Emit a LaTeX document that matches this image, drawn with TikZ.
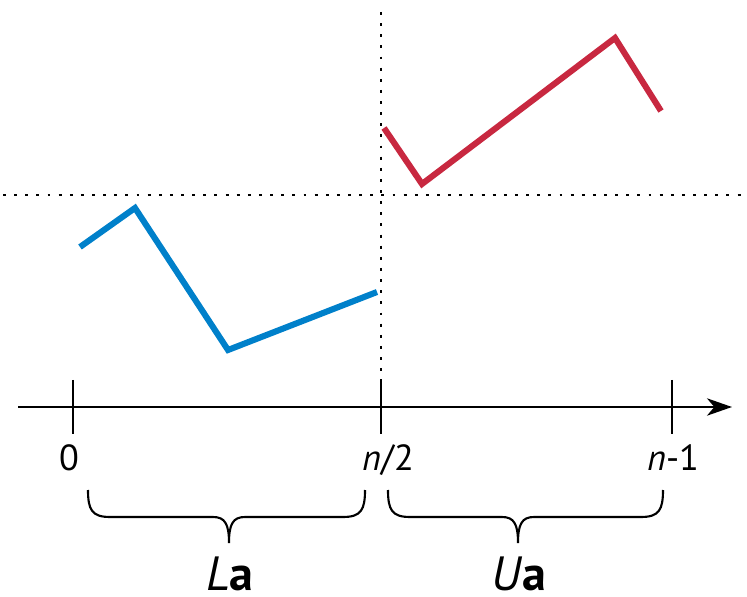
\documentclass[tikz,border=0pt]{standalone}
\usepackage{fontspec}
\setmainfont{PT Sans}
\usetikzlibrary{arrows.meta, positioning}

\begin{document}
\begin{tikzpicture}[x=0.03cm, y=-0.03cm,
          axisline/.style={line width=1.8pt, color=black},
          tickline/.style={line width=1.8pt, color=black},
          guideline/.style={line width=2.5pt, dash pattern=on 2.5pt off 7pt, color=black},
          lowpart/.style={line width=5.2pt, color=lowblue, line join=miter},
          highpart/.style={line width=5.2pt, color=highred, line join=miter},
          ticklabel/.style={anchor=base, inner sep=0pt, font=\fontsize{31}{31}\selectfont},
          bracestroke/.style={line width=1.8pt, color=black},
          halflabel/.style={anchor=base, inner sep=0pt, font=\fontsize{41}{41}\selectfont}]

        \definecolor{lowblue}{RGB}{0,128,202}
        \definecolor{highred}{RGB}{200,40,64}
        \useasboundingbox (0,0) rectangle (747,597);

        % axis and ticks
        \coordinate (start) at (18,407);
        \coordinate (end) at (732,407);
        \draw [axisline, -{Stealth[length=0.75cm, width=0.52cm, inset=0.22cm]}] (start) -- (end);
        \foreach \tx/\tname in {73/t0, 381/tmid, 672/tlast} {
          \coordinate (\tname-top) at (\tx,380);
          \coordinate (\tname-bot) at (\tx,434);
          \draw [tickline] (\tname-top) -- (\tname-bot);
        }

        % dotted guides
        \coordinate (vtop) at (381,12);
        \coordinate (hleft) at (3,195);
        \coordinate (hright) at (747,195);
        \draw [guideline] (vtop) -- (tmid-top);
        \draw [guideline] (hleft) -- (hright);

        % the two halves
        \draw [lowpart] (80,247) -- (135,208) -- (228,350) -- (377,292);
        \draw [highpart] (384,128) -- (422,184) -- (615,38) -- (661,111);

        % labels
        \node [ticklabel] (l0) at (69,470) {0};
        \node [ticklabel] (lmid) at (388,470) {\textit{n}/2};
        \node [ticklabel] (llast) at (673,470) {\textit{n}-1};

        % braces under the halves
        \foreach \ba/\bm/\bb/\bname in {88/229/365/lb, 388/518/663/ub} {
          \coordinate (\bname-a) at (\ba,490);
          \coordinate (\bname-tip) at (\bm,543);
          \coordinate (\bname-b) at (\bb,490);
          \draw [bracestroke] (\bname-a)
            .. controls ({\ba},510) and ({\ba+4},517) .. ({\ba+22},517)
            -- ({\bm-16},517)
            .. controls ({\bm-4},517) and ({\bm},524) .. (\bname-tip)
            .. controls ({\bm},524) and ({\bm+4},517) .. ({\bm+16},517)
            -- ({\bb-22},517)
            .. controls ({\bb-4},517) and ({\bb},510) .. (\bname-b);
        }

        \node [halflabel] (la) at (230,590) {\textit{L}\textbf{a}};
        \node [halflabel] (ua) at (519,590) {\textit{U}\textbf{a}};
      \end{tikzpicture}
\end{document}
